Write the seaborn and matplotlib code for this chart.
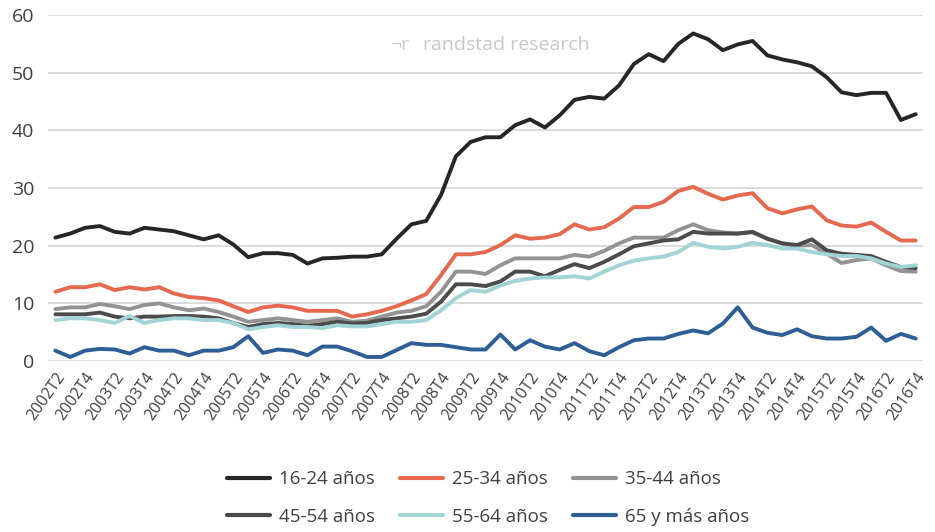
import numpy as np
import pandas as pd
import seaborn as sns
import matplotlib.pyplot as plt

# trimestres 2002T2 .. 2016T4
quarters = [f"{y}T{q}" for y in range(2002, 2017) for q in range(1, 5)][1:]

s16_24 = [21.4, 22.1, 23.1, 23.4, 22.4, 22.1, 23.1, 22.8, 22.5, 21.8,
          21.1, 21.8, 20.2, 18.0, 18.7, 18.7, 18.4, 16.9, 17.8, 17.9,
          18.1, 18.1, 18.5, 21.2, 23.7, 24.3, 28.8, 35.5, 38.0, 38.8,
          38.8, 40.9, 41.9, 40.5, 42.6, 45.3, 45.8, 45.5, 47.8, 51.5,
          53.2, 52.0, 55.0, 56.8, 55.8, 53.9, 54.9, 55.5, 53.0, 52.3,
          51.8, 51.1, 49.2, 46.6, 46.1, 46.5, 46.5, 41.8, 42.8]
s25_34 = [12.0, 12.8, 12.8, 13.3, 12.3, 12.8, 12.4, 12.8, 11.7, 11.1,
          10.9, 10.5, 9.5, 8.5, 9.3, 9.6, 9.3, 8.7, 8.7, 8.7,
          7.7, 8.1, 8.7, 9.5, 10.5, 11.6, 14.9, 18.5, 18.5, 18.9,
          20.1, 21.8, 21.2, 21.4, 22.0, 23.7, 22.8, 23.2, 24.7, 26.7,
          26.7, 27.6, 29.5, 30.2, 29.0, 28.0, 28.7, 29.1, 26.5, 25.6,
          26.3, 26.8, 24.4, 23.5, 23.3, 24.0, 22.4, 20.9, 20.9]
s35_44 = [9.0, 9.3, 9.3, 9.9, 9.5, 9.0, 9.7, 10.0, 9.3, 8.8,
          9.1, 8.5, 7.7, 6.8, 7.1, 7.4, 7.1, 6.8, 7.1, 7.4,
          6.8, 7.0, 7.7, 8.4, 8.7, 9.5, 12.0, 15.5, 15.5, 15.1,
          16.6, 17.8, 17.8, 17.8, 17.8, 18.4, 18.1, 19.1, 20.4, 21.4,
          21.4, 21.4, 22.7, 23.7, 22.7, 22.3, 22.1, 22.3, 21.2, 20.4,
          20.0, 20.1, 18.6, 17.0, 17.5, 17.8, 16.6, 15.6, 15.5]
s45_54 = [8.1, 8.1, 8.1, 8.4, 7.7, 7.4, 7.7, 7.7, 7.8, 7.8,
          7.7, 7.4, 6.6, 5.9, 6.4, 6.6, 6.4, 6.1, 6.4, 6.8,
          6.5, 6.6, 7.1, 7.4, 7.7, 8.2, 10.3, 13.3, 13.3, 13.0,
          13.8, 15.5, 15.5, 14.7, 15.8, 16.8, 16.1, 17.2, 18.5, 19.9,
          20.4, 20.9, 21.1, 22.4, 22.1, 22.1, 22.1, 22.4, 21.2, 20.4,
          20.1, 21.1, 19.2, 18.6, 18.4, 18.2, 17.2, 16.3, 16.1]
s55_64 = [7.1, 7.4, 7.4, 7.1, 6.6, 7.8, 6.6, 7.1, 7.4, 7.4,
          7.1, 7.1, 6.6, 5.5, 5.9, 6.2, 5.9, 5.9, 5.7, 6.2,
          6.0, 6.0, 6.4, 6.8, 6.8, 7.1, 8.8, 10.9, 12.3, 12.0,
          13.1, 13.9, 14.3, 14.5, 14.5, 14.7, 14.3, 15.5, 16.6, 17.4,
          17.8, 18.1, 18.9, 20.5, 19.8, 19.5, 19.8, 20.5, 20.1, 19.5,
          19.5, 18.9, 18.5, 18.2, 18.2, 17.8, 16.9, 16.3, 16.6]
s65 = [1.8, 0.7, 1.8, 2.1, 2.0, 1.3, 2.4, 1.8, 1.8, 1.0,
       1.8, 1.8, 2.4, 4.3, 1.4, 2.0, 1.8, 1.0, 2.5, 2.5,
       1.7, 0.7, 0.7, 1.9, 3.1, 2.8, 2.8, 2.4, 2.0, 2.0,
       4.6, 2.0, 3.6, 2.5, 2.0, 3.1, 1.7, 1.0, 2.4, 3.6,
       3.9, 3.9, 4.7, 5.3, 4.8, 6.5, 9.3, 5.8, 4.9, 4.5,
       5.5, 4.3, 3.9, 3.9, 4.2, 5.8, 3.5, 4.7, 3.9]

groups = ["16-24 años", "25-34 años", "35-44 años",
          "45-54 años", "55-64 años", "65 y más años"]
series = [s16_24, s25_34, s35_44, s45_54, s55_64, s65]
colors = ["#262626", "#e4694f", "#939393", "#4b4b4b", "#a2d4d6", "#2f5e97"]

df = pd.concat([pd.DataFrame({"idx": np.arange(len(quarters)), "valor": v, "grupo": g})
                for g, v in zip(groups, series)])

sns.set_style("white")
plt.rcParams["font.family"] = ["Open Sans", "DejaVu Sans"]

fig = plt.figure(figsize=(9.35, 5.32), dpi=100)
ax = fig.add_axes([0.0513, 0.3214, 0.936, 0.6504])

sns.lineplot(data=df, x="idx", y="valor", hue="grupo", hue_order=groups,
             palette=colors, linewidth=2.8, ax=ax, legend=False)

ax.set_xlim(-0.5, len(quarters) - 0.5)
ax.set_ylim(0, 60)
ax.set_yticks(range(0, 61, 10))
ax.yaxis.grid(True, color="#d9d9d9", linewidth=1.3)
ax.set_axisbelow(True)
for s in ax.spines.values():
    s.set_visible(False)
ax.set_xlabel("")
ax.set_ylabel("")
ax.tick_params(axis="y", length=0, labelsize=14, labelcolor="#404040", pad=10)

ax.set_xticks(range(0, len(quarters), 2))
ax.set_xticklabels(quarters[::2], rotation=55, ha="right", rotation_mode="anchor",
                   fontsize=11.5, color="#404040")
ax.tick_params(axis="x", length=0, pad=6)

ax.text(0.392, 0.913, "¬r", transform=ax.transAxes, fontsize=14,
        color="#cccccc", va="center")
ax.text(0.428, 0.913, "randstad research", transform=ax.transAxes,
        fontsize=14, color="#c8c8c8", va="center")

# legend ordenada por filas
handles = [plt.Line2D([], [], color=c, linewidth=3.0) for c in colors]
order = [0, 3, 1, 4, 2, 5]
fig.legend([handles[i] for i in order], [groups[i] for i in order],
           loc="center", bbox_to_anchor=(0.522, 0.064), ncol=3, frameon=False,
           fontsize=13.5, handlelength=2.3, handletextpad=0.5,
           columnspacing=1.3, labelspacing=1.05, labelcolor="#404040")

plt.savefig("out.png", dpi=100)
